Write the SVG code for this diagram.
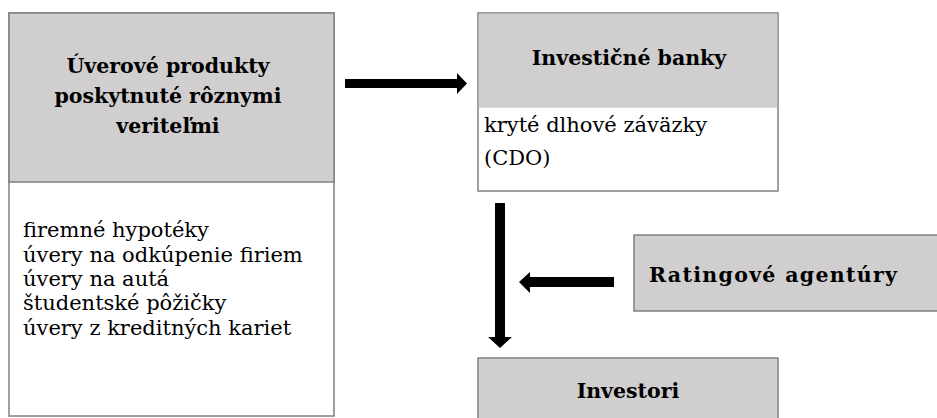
<svg xmlns="http://www.w3.org/2000/svg" width="937" height="418" viewBox="0 0 937 418">
<style>
.box{stroke:#808080;stroke-width:1.5}
.g{fill:#d0cece}
.w{fill:#ffffff}
.t{font-family:"DejaVu Serif","Liberation Serif",serif;fill:#000}
.b{font-weight:bold;font-size:20.5px;text-anchor:middle}
.n{font-size:21px}
</style>
<rect width="937" height="418" fill="#fff"/>
<g id="uverove">
<rect class="box w" x="9" y="13" width="325" height="403"/>
<rect class="box g" x="9" y="13" width="325" height="169"/>
<text class="t b" x="168" y="73">Úverové produkty</text>
<text class="t b" x="168" y="103">poskytnuté rôznymi</text>
<text class="t b" x="168" y="133">veriteľmi</text>
<text class="t n" x="23" y="237">firemné hypotéky</text>
<text class="t n" x="23" y="262">úvery na odkúpenie firiem</text>
<text class="t n" x="23" y="286">úvery na autá</text>
<text class="t n" x="23" y="310">študentské pôžičky</text>
<text class="t n" x="23" y="335">úvery z kreditných kariet</text>
</g>
<g id="banky">
<rect class="box w" x="478" y="13" width="300" height="178"/>
<rect class="g" x="478.75" y="13.75" width="298.5" height="94"/>
<text class="t b" x="629" y="65">Investičné banky</text>
<text class="t n" x="484" y="132">kryté dlhové záväzky</text>
<text class="t n" x="484" y="165">(CDO)</text>
</g>
<g id="rating">
<rect class="box g" x="634" y="235" width="304" height="76"/>
<text class="t b" x="773" y="282" textLength="248" lengthAdjust="spacing">Ratingové agentúry</text>
</g>
<g id="investori">
<rect class="box g" x="478" y="358" width="300" height="70"/>
<text class="t b" x="628" y="398">Investori</text>
</g>
<g id="connectors" fill="#000">
<polygon points="345,79 457,79 457,73 467,83.5 457,94 457,88 345,88"/>
<polygon points="495,203 505,203 505,337 512,337 500,348 488,337 495,337"/>
<polygon points="614,277 530,277 530,272 519,282 530,293 530,287 614,287"/>
</g>
</svg>
